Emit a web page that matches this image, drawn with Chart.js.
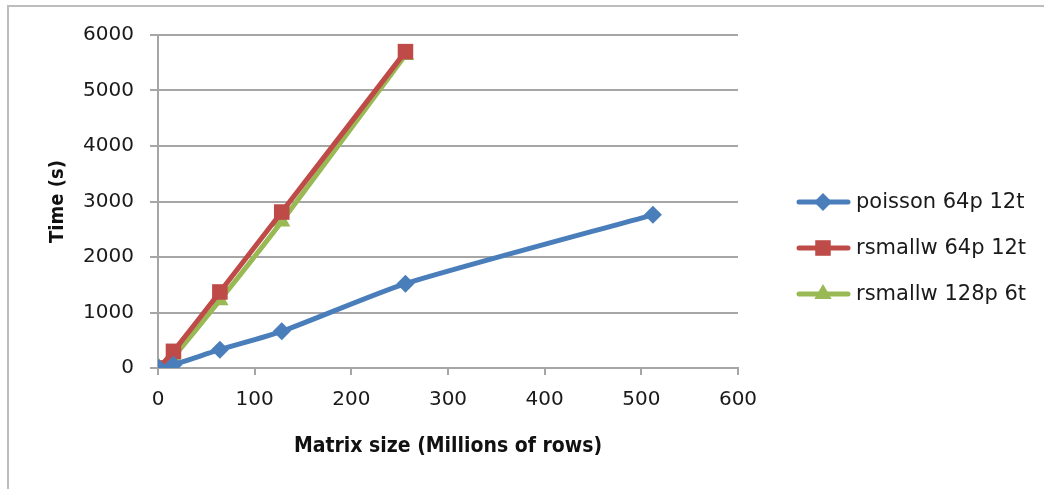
<!DOCTYPE html>
<html>
<head>
<meta charset="utf-8">
<script src="https://cdn.jsdelivr.net/npm/chart.js@4"></script>
<style>
  html, body { margin: 0; padding: 0; background: #fff; overflow: hidden; }
  canvas { display: block; }
</style>
</head>
<body>
<canvas id="chart" width="1044" height="489"></canvas>
<script>
// series: matrix size (millions of rows) vs time (s)
const poissonX = [1, 16, 64, 128, 256, 512];
const poissonY = [0, 60, 330, 660, 1520, 2760];
const rsmall64X = [1, 16, 64, 128, 256];
const rsmall64Y = [0, 300, 1370, 2810, 5700];
const rsmall128X = [1, 16, 64, 128, 256];
const rsmall128Y = [0, 200, 1220, 2640, 5640];

const seriesNames = ['poisson 64p 12t', 'rsmallw 64p 12t', 'rsmallw 128p 6t'];
const xTicks = [0, 100, 200, 300, 400, 500, 600];
const yTicks = [0, 1000, 2000, 3000, 4000, 5000, 6000];

const FONT = '"DejaVu Sans", sans-serif';
const BOLD = '"DejaVu Sans Condensed", "DejaVu Sans", sans-serif';
const GRID = '#a6a6a6';

function pts(xs, ys) {
  return xs.map((x, i) => ({ x: x, y: ys[i] }));
}

const blue = '#4a7ebb', red = '#be4b48', green = '#98b954';

// outer chart border (left + top only, the rest is cut off in the picture)
const frame = {
  id: 'frame',
  beforeDraw(chart) {
    const ctx = chart.ctx;
    ctx.save();
    ctx.strokeStyle = '#bdbdbd';
    ctx.lineWidth = 2;
    ctx.beginPath();
    ctx.moveTo(8, 489);
    ctx.lineTo(8, 6);
    ctx.lineTo(1044, 6);
    ctx.stroke();
    ctx.restore();
  }
};

// legend drawn like Excel: short line with the marker in the middle
const excelLegend = {
  id: 'excelLegend',
  afterDraw(chart) {
    const ctx = chart.ctx;
    const rows = [202, 248, 294];
    const cx = 823;
    chart.data.datasets.forEach((ds, i) => {
      const y = rows[i];
      ctx.save();
      ctx.strokeStyle = ds.borderColor;
      ctx.lineWidth = 5;
      ctx.lineCap = 'round';
      ctx.beginPath();
      ctx.moveTo(799, y);
      ctx.lineTo(848, y);
      ctx.stroke();
      ctx.fillStyle = ds.backgroundColor;
      ctx.beginPath();
      const r = ds.pointRadius;
      if (ds.pointStyle === 'rectRot') {
        ctx.moveTo(cx - r, y); ctx.lineTo(cx, y - r); ctx.lineTo(cx + r, y); ctx.lineTo(cx, y + r);
      } else if (ds.pointStyle === 'rect') {
        const s = r * Math.SQRT1_2;
        ctx.rect(cx - s, y - s, 2 * s, 2 * s);
      } else {
        ctx.moveTo(cx, y - r); ctx.lineTo(cx + r * 0.87, y + r * 0.5); ctx.lineTo(cx - r * 0.87, y + r * 0.5);
      }
      ctx.closePath();
      ctx.fill();
      ctx.fillStyle = '#1a1a1a';
      ctx.font = '21px ' + FONT;
      ctx.textBaseline = 'middle';
      ctx.fillText(ds.label, 856, y + 1);
      ctx.restore();
    });
  }
};

new Chart(document.getElementById('chart'), {
  type: 'scatter',
  data: {
    datasets: [
      { label: seriesNames[0], data: pts(poissonX, poissonY), borderColor: blue, backgroundColor: blue,
        pointStyle: 'rectRot', pointRadius: 9, borderWidth: 5, pointBorderWidth: 0 },
      { label: seriesNames[1], data: pts(rsmall64X, rsmall64Y), borderColor: red, backgroundColor: red,
        pointStyle: 'rect', pointRadius: 11, borderWidth: 5, pointBorderWidth: 0 },
      { label: seriesNames[2], data: pts(rsmall128X, rsmall128Y), borderColor: green, backgroundColor: green,
        pointStyle: 'triangle', pointRadius: 10, borderWidth: 5, pointBorderWidth: 0 }
    ]
  },
  options: {
    responsive: false,
    animation: false,
    showLine: true,
    elements: { line: { tension: 0.2, borderCapStyle: 'round', borderJoinStyle: 'round' } },
    layout: { padding: { left: 0, top: 35, right: 306, bottom: 0 } },
    plugins: { legend: { display: false }, tooltip: { enabled: false } },
    scales: {
      x: {
        type: 'linear', min: 0, max: 600,
        afterBuildTicks: (s) => { s.ticks = xTicks.map(v => ({ value: v })); },
        afterFit: (s) => { s.height = 121; },
        grid: { drawOnChartArea: false, drawTicks: true, tickLength: 7, color: GRID, lineWidth: 2 },
        border: { color: GRID, width: 2 },
        ticks: { color: '#1a1a1a', font: { family: FONT, size: 20 }, padding: 13, maxRotation: 0,
                 callback: (v) => String(v) },
        title: { display: true, text: 'Matrix size (Millions of rows)', color: '#111',
                 font: { family: BOLD, size: 21, weight: 'bold' }, padding: { top: 0, bottom: 30 } }
      },
      y: {
        type: 'linear', min: 0, max: 6000,
        afterBuildTicks: (s) => { s.ticks = yTicks.map(v => ({ value: v })); },
        afterFit: (s) => { s.width = 158; },
        grid: { drawTicks: true, tickLength: 8, color: GRID, lineWidth: 2 },
        border: { color: GRID, width: 2 },
        ticks: { color: '#1a1a1a', font: { family: FONT, size: 20 }, padding: 16,
                 callback: (v) => String(v) },
        title: { display: true, text: 'Time (s)', color: '#111',
                 font: { family: BOLD, size: 20, weight: 'bold' }, padding: { top: 46, bottom: 0 } }
      }
    }
  },
  plugins: [frame, excelLegend]
});
</script>
</body>
</html>
